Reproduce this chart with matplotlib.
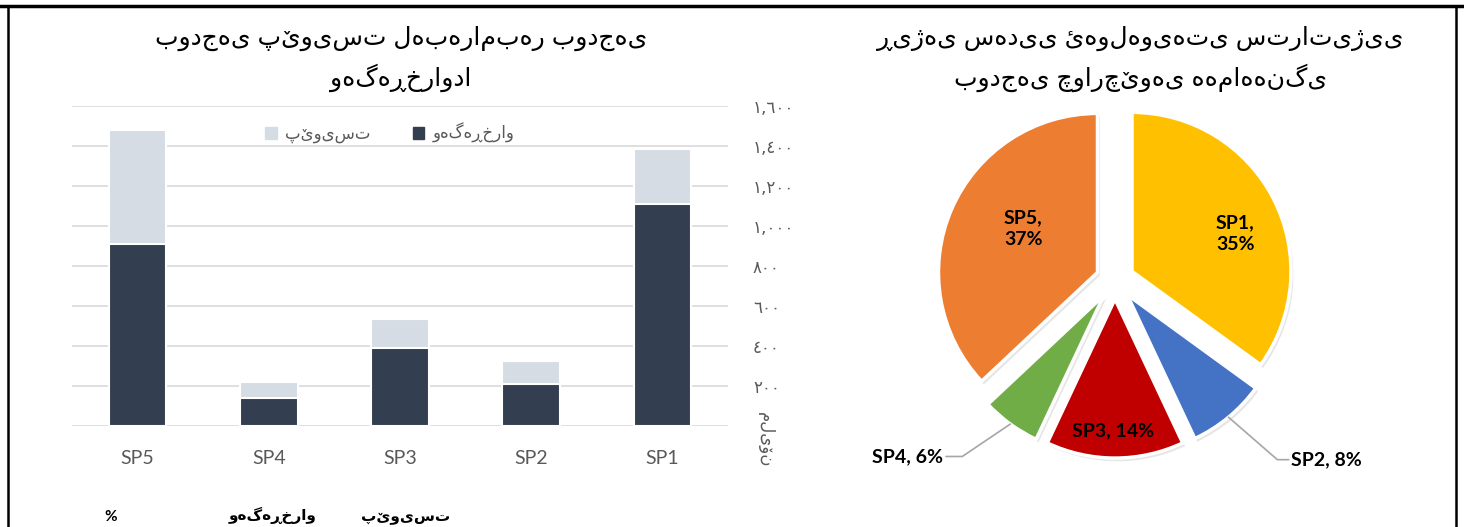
import matplotlib
matplotlib.use('Agg')
import matplotlib.pyplot as plt
from matplotlib.lines import Line2D
from matplotlib.patches import Patch
import numpy as np

plt.rcParams['font.family'] = ['Lato', 'DejaVu Sans']

# bar chart: budget per project (million)
projects = ['SP1', 'SP2', 'SP3', 'SP4', 'SP5']
required = [1385, 325, 535, 220, 1480]
allocated = [1110, 208, 390, 138, 910]
y_ticks = [0, 200, 400, 600, 800, 1000, 1200, 1400, 1600]
legend_required = 'پێویست'
legend_allocated = 'وەگەڕخراو'
unit_label = 'ملیۆن'

# pie chart: share of required budget
pie_labels = ['SP1', 'SP2', 'SP3', 'SP4', 'SP5']
pie_shares = [35, 8, 14, 6, 37]
pie_colors = ['#FFC000', '#4472C4', '#C00000', '#70AD47', '#ED7D31']

bar_title = ['بودجەی پێویست لەبەرامبەر بودجەی', 'وەگەڕخراودا']
pie_title = ['ڕیژەی سەدیی ئەولەویەتی ستراتیژیی', 'بودجەی چوارچێوەی هەماهەنگی']
table_head = ['%', 'وەگەڕخراو', 'پێویست']

W, H = 1464, 527
fig = plt.figure(figsize=(W / 100, H / 100), dpi=100)


def px_box(x0, y0, x1, y1):
    return [x0 / W, 1 - y1 / H, (x1 - x0) / W, (y1 - y0) / H]


ar_digits = str.maketrans('0123456789', '٠١٢٣٤٥٦٧٨٩')


def ar_fmt(v, pos):
    if v == 0:
        return ''
    return f'{int(v):,}'.translate(ar_digits)


# ---- bar chart
light = '#D6DCE4'
dark = '#333F50'
ax = fig.add_axes(px_box(72, 106, 728, 426))
x = np.arange(len(projects))
ax.bar(x, required, width=0.44, color=light, edgecolor='white', linewidth=1.5, zorder=2)
ax.bar(x, allocated, width=0.44, color=dark, edgecolor='white', linewidth=1.5, zorder=3)
ax.set_xlim(len(projects) - 0.5, -0.5)
ax.set_ylim(0, 1600)
ax.set_xticks(x)
ax.set_xticklabels(projects)
ax.set_yticks(y_ticks)
ax.yaxis.set_major_formatter(plt.FuncFormatter(ar_fmt))
ax.yaxis.tick_right()
ax.yaxis.grid(True, color='#D9D9D9', linewidth=1.2)
ax.set_axisbelow(True)
for s in ax.spines.values():
    s.set_visible(False)
ax.tick_params(length=0)
ax.tick_params(axis='x', pad=17, labelsize=14, labelcolor='#595959')
ax.tick_params(axis='y', pad=18, labelsize=12, labelcolor='#595959')
for t in ax.get_yticklabels():
    t.set_family(['DejaVu Sans'])

handles = [Patch(color=light, label=legend_required),
           Patch(color=dark, label=legend_allocated)]
ax.legend(handles=handles, loc='center', bbox_to_anchor=((390 - 72) / 656, (426 - 133) / 320),
          ncol=2, frameon=False, fontsize=12, handlelength=0.7, handleheight=0.7,
          columnspacing=2.5, handletextpad=0.5, labelcolor='#595959')

fig.text(765 / W, 1 - 440 / H, unit_label, rotation=270, ha='center', va='center',
         color='#595959', fontsize=12)

# ---- pie chart
R = 159
pax = fig.add_axes(px_box(1115 - 1.5 * R, 280 - 1.5 * R, 1115 + 1.5 * R, 280 + 1.5 * R))
explode = [0.12] * len(pie_shares)
pax.pie(pie_shares, colors=['#C8C8C8'] * len(pie_shares), startangle=90, counterclock=False,
        explode=explode, center=(0.015, -0.02), wedgeprops=dict(linewidth=0, alpha=0.45))
wedges, _ = pax.pie(pie_shares, colors=pie_colors, startangle=90, counterclock=False,
                    explode=explode, wedgeprops=dict(edgecolor='white', linewidth=2.5))
pax.set_xlim(-1.5, 1.5)
pax.set_ylim(-1.5, 1.5)
pax.set_aspect('equal')

inside = {'SP1': (0.69, -7), 'SP3': (0.83, -1), 'SP5': (0.54, -7)}
two_line = {'SP1', 'SP5'}
outside = {'SP2': ((1.11, -1.13), 'left', -41), 'SP4': ((-1.08, -1.11), 'right', 34)}
for w, name, share in zip(wedges, pie_labels, pie_shares):
    mid = (w.theta1 + w.theta2) / 2
    cx, cy = w.center
    sep = ',\n' if name in two_line else ', '
    txt = f'{name}{sep}{share}%'
    if name in inside:
        r, dth = inside[name]
        a = np.deg2rad(mid + dth)
        pax.text(cx + r * np.cos(a), cy + r * np.sin(a), txt, ha='center', va='center',
                 fontsize=14, fontweight='bold', color='black', linespacing=1.35)
    else:
        pos, ha, angB = outside[name]
        a = np.deg2rad(mid)
        pax.annotate(txt, xy=(cx + np.cos(a), cy + np.sin(a)), xytext=pos, ha=ha, va='center',
                     fontsize=14, fontweight='bold', color='black',
                     arrowprops=dict(arrowstyle='-', color='#A6A6A6', lw=1.2,
                                     relpos=(1, 0.5) if ha == 'right' else (0, 0.5),
                                     shrinkA=0, shrinkB=0,
                                     connectionstyle=f'angle,angleA=0,angleB={angB},rad=0'))

# ---- titles
title_font = ['Liberation Sans', 'DejaVu Sans']
for i, line in enumerate(bar_title):
    fig.text(401 / W, 1 - (38 + 40 * i) / H, line, ha='center', va='center',
             fontsize=18, family=title_font, color='black')
for i, line in enumerate(pie_title):
    fig.text(1140 / W, 1 - (38 + 40 * i) / H, line, ha='center', va='center',
             fontsize=18, family=title_font, color='black')

# ---- header row of the page table underneath
for xp, t in zip([111, 273, 406], table_head):
    fig.text(xp / W, 1 - 524 / H, t, ha='center', va='bottom', fontsize=11, fontweight='bold')

# ---- page border
fig.add_artist(Line2D([0, 1], [1 - 6 / H] * 2, color='black', lw=2.5))
fig.add_artist(Line2D([8 / W] * 2, [0, 1 - 6 / H], color='black', lw=1.8))
fig.add_artist(Line2D([1456 / W] * 2, [0, 1 - 6 / H], color='black', lw=1.8))

fig.savefig('out.png', dpi=100)
